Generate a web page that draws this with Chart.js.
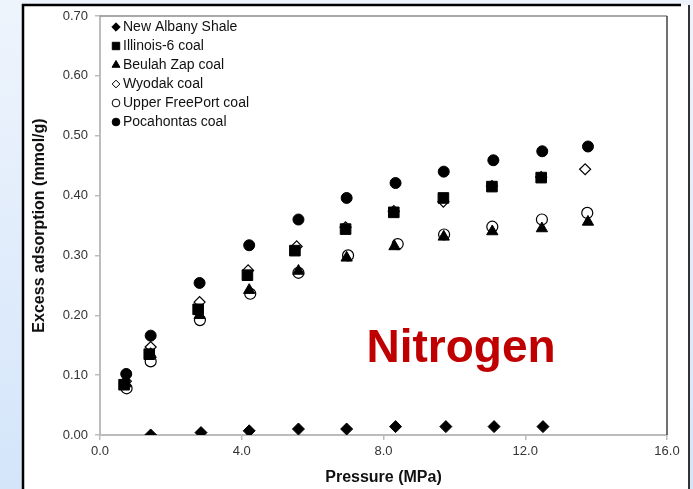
<!DOCTYPE html>
<html>
<head>
<meta charset="utf-8">
<script src="https://cdn.jsdelivr.net/npm/chart.js@4.4.1/dist/chart.umd.min.js"></script>
<style>
  html, body { margin: 0; padding: 0; background: #e4eefa; }
  #chart { display: block; }
</style>
</head>
<body>
<canvas id="chart" width="693" height="489"></canvas>
<script>
// pressures (MPa) and excess adsorption (mmol/g)
const shaleP = [1.43, 2.85, 4.21, 5.60, 6.96, 8.34, 9.76, 11.12, 12.50];
const shaleV = [0.000, 0.004, 0.007, 0.010, 0.010, 0.014, 0.014, 0.014, 0.014];

const illinoisP = [0.68, 1.39, 2.77, 4.16, 5.50, 6.93, 8.29, 9.69, 11.06, 12.45];
const illinoisV = [0.084, 0.135, 0.210, 0.267, 0.308, 0.344, 0.372, 0.396, 0.415, 0.430];

const beulahP = [0.73, 1.43, 2.81, 4.21, 5.60, 6.96, 8.31, 9.70, 11.07, 12.47, 13.77];
const beulahV = [0.086, 0.135, 0.200, 0.242, 0.274, 0.296, 0.315, 0.331, 0.340, 0.345, 0.356];

const wyodakP = [0.73, 1.43, 2.81, 4.18, 5.55, 6.93, 8.29, 9.69, 11.06, 12.45, 13.69];
const wyodakV = [0.090, 0.147, 0.222, 0.275, 0.315, 0.347, 0.374, 0.390, 0.416, 0.431, 0.444];

const freeportP = [0.75, 1.43, 2.82, 4.24, 5.60, 7.00, 8.40, 9.71, 11.07, 12.47, 13.75];
const freeportV = [0.078, 0.123, 0.192, 0.236, 0.271, 0.300, 0.319, 0.335, 0.348, 0.360, 0.371];

const pocahontasP = [0.74, 1.43, 2.81, 4.21, 5.60, 6.96, 8.34, 9.70, 11.10, 12.48, 13.77];
const pocahontasV = [0.102, 0.166, 0.254, 0.317, 0.360, 0.396, 0.421, 0.440, 0.459, 0.474, 0.482];

const xTicks = [0, 4, 8, 12, 16];
const yTicks = [0, 0.1, 0.2, 0.3, 0.4, 0.5, 0.6, 0.7];

const FONT = "'Liberation Sans', Arial, sans-serif";

function toPoints(xs, ys) {
    return xs.map((x, i) => ({ x: x, y: ys[i] }));
}

function series(label, xs, ys, style, radius, filled) {
    return {
        label: label,
        data: toPoints(xs, ys),
        showLine: false,
        pointStyle: style,
        pointRadius: radius,
        pointHoverRadius: radius,
        pointBackgroundColor: filled ? '#000' : 'rgba(0,0,0,0)',
        pointBorderColor: '#000',
        pointBorderWidth: filled ? 1 : 1.2
    };
}

const datasets = [
    series('New Albany Shale', shaleP, shaleV, 'rectRot', 6, true),
    series('Illinois-6 coal', illinoisP, illinoisV, 'rect', 7.5, true),
    series('Beulah Zap coal', beulahP, beulahV, 'triangle', 6.5, true),
    series('Wyodak coal', wyodakP, wyodakV, 'rectRot', 5.5, false),
    series('Upper FreePort coal', freeportP, freeportV, 'circle', 5.5, false),
    series('Pocahontas coal', pocahontasP, pocahontasV, 'circle', 5.5, true)
];

// page background, black frame, plot box, inset legend and label
const decor = {
    id: 'decor',
    beforeDraw(chart) {
        const ctx = chart.ctx;
        const g = ctx.createLinearGradient(0, 0, 0, chart.height);
        g.addColorStop(0, '#eef4fc');
        g.addColorStop(1, '#d4e5fa');
        ctx.save();
        ctx.fillStyle = g;
        ctx.fillRect(0, 0, chart.width, chart.height);
        ctx.fillStyle = '#fff';
        ctx.fillRect(23, 5, 666, chart.height);
        ctx.strokeStyle = '#000';
        ctx.lineWidth = 2.5;
        ctx.beginPath();
        ctx.moveTo(23, chart.height);
        ctx.lineTo(23, 5);
        ctx.lineTo(681, 5);
        ctx.stroke();
        ctx.strokeStyle = '#333';
        ctx.lineWidth = 2;
        ctx.beginPath();
        ctx.moveTo(689, 5);
        ctx.lineTo(689, chart.height);
        ctx.stroke();
        ctx.restore();
    },
    beforeDatasetsDraw(chart) {
        const a = chart.chartArea;
        const ctx = chart.ctx;
        ctx.save();
        ctx.lineWidth = 1.5;
        ctx.strokeStyle = '#8c8c8c';
        ctx.beginPath();
        ctx.moveTo(a.left, a.top);
        ctx.lineTo(a.right, a.top);
        ctx.stroke();
        ctx.strokeStyle = '#404040';
        ctx.beginPath();
        ctx.moveTo(a.right, a.top);
        ctx.lineTo(a.right, a.bottom);
        ctx.stroke();
        ctx.restore();
    },
    afterDraw(chart) {
        const a = chart.chartArea;
        const ctx = chart.ctx;
        ctx.save();
        // legend
        ctx.font = '14px ' + FONT;
        ctx.textBaseline = 'middle';
        ctx.textAlign = 'left';
        chart.data.datasets.forEach((ds, i) => {
            const y = a.top + 11 + i * 19;
            const x = a.left + 16;
            ctx.fillStyle = ds.pointBackgroundColor;
            ctx.strokeStyle = '#000';
            ctx.lineWidth = 1;
            Chart.helpers.drawPoint(ctx, {
                pointStyle: ds.pointStyle,
                radius: ds.pointRadius * 0.7,
                borderWidth: 1,
                rotation: 0
            }, x, y);
            ctx.fillStyle = '#111';
            ctx.fillText(ds.label, x + 7, y);
        });
        // gas label
        const sx = chart.scales.x, sy = chart.scales.y;
        ctx.font = 'bold 46px ' + FONT;
        ctx.fillStyle = '#c00000';
        ctx.textBaseline = 'alphabetic';
        ctx.fillText('Nitrogen', sx.getPixelForValue(7.52), sy.getPixelForValue(0.122));
        ctx.restore();
    }
};

new Chart(document.getElementById('chart'), {
    type: 'scatter',
    data: { datasets: datasets },
    options: {
        responsive: false,
        animation: false,
        events: [],
        layout: { padding: { left: 22, top: 16, right: 26, bottom: 0 } },
        plugins: {
            legend: { display: false },
            tooltip: { enabled: false }
        },
        scales: {
            x: {
                type: 'linear',
                min: 0,
                max: 16,
                afterFit: s => { s.height = 54; },
                afterBuildTicks: s => { s.ticks = xTicks.map(v => ({ value: v })); },
                border: { color: '#bcbcbc', width: 2 },
                grid: { drawOnChartArea: false, drawTicks: true, tickLength: 5, color: '#bcbcbc', lineWidth: 1.5 },
                ticks: {
                    color: '#333',
                    padding: 4,
                    maxRotation: 0,
                    font: { family: FONT, size: 13 },
                    callback: v => v.toFixed(1)
                },
                title: {
                    display: true,
                    text: 'Pressure (MPa)',
                    color: '#111',
                    padding: { top: 0, bottom: 2 },
                    font: { family: FONT, size: 16, weight: 'bold' }
                }
            },
            y: {
                type: 'linear',
                min: 0,
                max: 0.7,
                afterFit: s => { s.width = 78; },
                afterBuildTicks: s => { s.ticks = yTicks.map(v => ({ value: v })); },
                border: { color: '#bcbcbc', width: 2 },
                grid: { drawOnChartArea: false, drawTicks: true, tickLength: 5, color: '#bcbcbc', lineWidth: 1.5 },
                ticks: {
                    color: '#333',
                    padding: 7,
                    font: { family: FONT, size: 13 },
                    callback: v => v.toFixed(2)
                },
                title: {
                    display: true,
                    text: 'Excess adsorption (mmol/g)',
                    color: '#111',
                    padding: { top: 8, bottom: 0 },
                    font: { family: FONT, size: 16, weight: 'bold' }
                }
            }
        }
    },
    plugins: [decor]
});
</script>
</body>
</html>
